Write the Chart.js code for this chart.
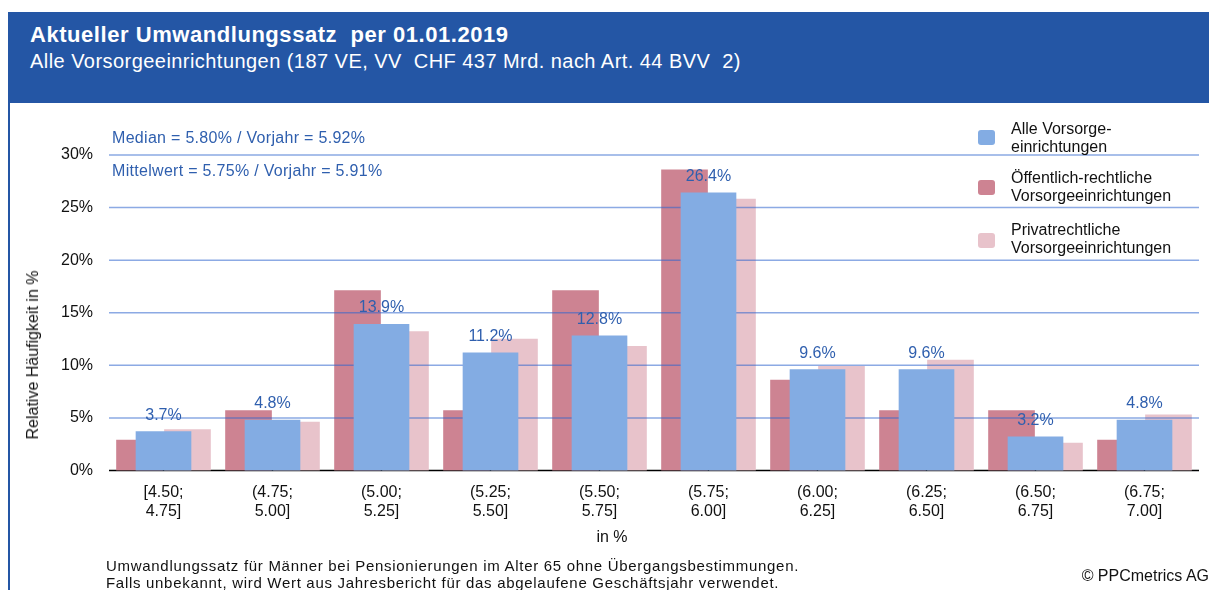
<!DOCTYPE html>
<html>
<head>
<meta charset="utf-8">
<title>Aktueller Umwandlungssatz</title>
<script src="https://cdn.jsdelivr.net/npm/chart.js@4.4.1/dist/chart.umd.min.js"></script>
<style>
  body { margin: 0; width: 1209px; height: 590px; overflow: hidden; background: #fff; position: relative;
         font-family: "Liberation Sans", Arial, sans-serif; color: #111; }
  #chartWrap { position: absolute; left: 0; top: 0; width: 1209px; height: 590px; }
  #frame { position: absolute; left: 8px; top: 12px; width: 2px; height: 578px; background: #2456a5; }
  #header { position: absolute; left: 8px; top: 12px; right: 0; height: 91px; background: #2456a5; color: #fff; }
  #header .title { position: absolute; left: 22px; top: 10px; font-size: 22px; line-height: 26px; font-weight: bold;
                   letter-spacing: 0.55px; white-space: pre; }
  #header .sub { position: absolute; left: 22px; top: 37px; font-size: 20px; line-height: 24px; letter-spacing: 0.45px; white-space: pre; }
  .note { position: absolute; left: 112px; font-size: 16px; line-height: 18px; letter-spacing: 0.3px; color: #2f5fae; white-space: pre; }
  #legend { position: absolute; left: 978px; top: 0; }
  .item { position: absolute; left: 0; width: 220px; }
  .item .box { position: absolute; left: 0; width: 17px; height: 15px; border-radius: 3px; }
  .item .txt { position: absolute; left: 33px; font-size: 16px; line-height: 18px; white-space: pre; }
  #yTitle { position: absolute; left: 33px; top: 355px; font-size: 16px; white-space: pre;
            transform: translate(-50%, -50%) rotate(-90deg); }
  #xTitle { position: absolute; left: 612px; top: 537px; font-size: 16px; transform: translate(-50%, -50%); }
  #footer { position: absolute; left: 106px; top: 557px; font-size: 15px; line-height: 17px; letter-spacing: 0.7px; white-space: pre; }
  #copy { position: absolute; right: 0; top: 567px; font-size: 16px; line-height: 18px; white-space: pre; }
</style>
</head>
<body>
<div id="chartWrap"><canvas id="barChart"></canvas></div>
<div id="frame"></div>
<div id="header">
  <div class="title">Aktueller Umwandlungssatz  per 01.01.2019</div>
  <div class="sub">Alle Vorsorgeeinrichtungen (187 VE, VV  CHF 437 Mrd. nach Art. 44 BVV  2)</div>
</div>
<div class="note" style="top:129px">Median = 5.80% / Vorjahr = 5.92%</div>
<div class="note" style="top:162px">Mittelwert = 5.75% / Vorjahr = 5.91%</div>
<div id="legend"></div>
<div id="yTitle">Relative Häufigkeit in %</div>
<div id="xTitle">in %</div>
<div id="footer">Umwandlungssatz für Männer bei Pensionierungen im Alter 65 ohne Übergangsbestimmungen.
Falls unbekannt, wird Wert aus Jahresbericht für das abgelaufene Geschäftsjahr verwendet.</div>
<div id="copy">© PPCmetrics AG</div>

<script>
// categories (x axis), two lines each
const categories = [
    ["[4.50;", "4.75]"], ["(4.75;", "5.00]"], ["(5.00;", "5.25]"], ["(5.25;", "5.50]"], ["(5.50;", "5.75]"],
    ["(5.75;", "6.00]"], ["(6.00;", "6.25]"], ["(6.25;", "6.50]"], ["(6.50;", "6.75]"], ["(6.75;", "7.00]"]
];

// relative frequency in %
const alleValues = [3.7, 4.8, 13.9, 11.2, 12.8, 26.4, 9.6, 9.6, 3.2, 4.8];
const oeffValues = [2.9, 5.7, 17.1, 5.7, 17.1, 28.6, 8.6, 5.7, 5.7, 2.9];
const privValues = [3.9, 4.6, 13.2, 12.5, 11.8, 25.8, 9.9, 10.5, 2.6, 5.3];

const yTicks = [0, 5, 10, 15, 20, 25, 30];

const seriesNames = [
    ["Alle Vorsorge-", "einrichtungen"],
    ["Öffentlich-rechtliche", "Vorsorgeeinrichtungen"],
    ["Privatrechtliche", "Vorsorgeeinrichtungen"]
];
const seriesColors = ["#83ace3", "#cd8392", "#e8c3cb"];

Chart.defaults.font.family = '"Liberation Sans", Arial, sans-serif';
Chart.defaults.color = "#111";

// gridlines sit on top of the red/pink bars but under the blue ones
const gridAndLabels = {
    id: "gridAndLabels",
    beforeDatasetsDraw(chart) {
        const { ctx, chartArea, scales: { y } } = chart;
        const py = y.getPixelForValue(0);
        ctx.save();
        ctx.strokeStyle = "#000";
        ctx.lineWidth = 1.5;
        ctx.beginPath();
        ctx.moveTo(chartArea.left, py);
        ctx.lineTo(chartArea.right, py);
        ctx.stroke();
        ctx.restore();
    },
    beforeDatasetDraw(chart, args) {
        if (args.index !== 0) return;
        const { ctx, chartArea, scales: { y } } = chart;
        ctx.save();
        ctx.strokeStyle = "rgba(45, 100, 205, 0.55)";
        ctx.lineWidth = 1.5;
        yTicks.forEach(t => {
            if (t === 0) return;
            const py = y.getPixelForValue(t);
            ctx.beginPath();
            ctx.moveTo(chartArea.left, py);
            ctx.lineTo(chartArea.right, py);
            ctx.stroke();
        });
        ctx.restore();
    },
    afterDatasetsDraw(chart) {
        const ctx = chart.ctx;
        const meta = chart.getDatasetMeta(0);
        ctx.save();
        ctx.font = '16px "Liberation Sans", Arial, sans-serif';
        ctx.fillStyle = "#2f5fae";
        ctx.textAlign = "center";
        ctx.textBaseline = "alphabetic";
        meta.data.forEach((bar, i) => {
            ctx.fillText(alleValues[i].toFixed(1) + "%", bar.x, bar.y - 12);
        });
        ctx.restore();
    }
};

const chart = new Chart(document.getElementById("barChart"), {
    type: "bar",
    data: {
        datasets: [
            {
                label: seriesNames[0].join(""),
                data: alleValues.map((v, i) => ({ x: i, y: v })),
                backgroundColor: seriesColors[0],
                barThickness: 55,
                grouped: false,
                order: 0
            },
            {
                label: seriesNames[1].join(" "),
                data: oeffValues.map((v, i) => ({ x: i - 0.22, y: v })),
                backgroundColor: seriesColors[1],
                barThickness: 46,
                grouped: false,
                order: 1
            },
            {
                label: seriesNames[2].join(" "),
                data: privValues.map((v, i) => ({ x: i + 0.22, y: v })),
                backgroundColor: seriesColors[2],
                barThickness: 46,
                grouped: false,
                order: 2
            }
        ]
    },
    options: {
        responsive: true,
        maintainAspectRatio: false,
        animation: false,
        layout: {
            autoPadding: false,
            padding: { top: 155, left: 0, right: 10, bottom: 59.5 }
        },
        plugins: {
            legend: { display: false },
            tooltip: { enabled: false }
        },
        scales: {
            x: {
                type: "linear",
                min: -0.5,
                max: 9.5,
                offset: false,
                afterBuildTicks: scale => {
                    scale.ticks = categories.map((c, i) => ({ value: i }));
                },
                afterFit: scale => { scale.height = 60; },
                grid: { display: false, drawTicks: false },
                border: { display: false },
                ticks: {
                    autoSkip: false,
                    maxRotation: 0,
                    padding: 12,
                    font: { size: 16, lineHeight: 1.2 },
                    callback: value => categories[value]
                }
            },
            y: {
                min: 0,
                max: 30,
                afterBuildTicks: scale => {
                    scale.ticks = yTicks.map(v => ({ value: v }));
                },
                afterFit: scale => { scale.width = 109; },
                grid: { display: false, drawTicks: false },
                border: { display: false },
                ticks: {
                    padding: 16,
                    font: { size: 16 },
                    callback: value => value + "%"
                }
            }
        }
    },
    plugins: [gridAndLabels]
});

// legend built from the series names and colours
const legendTops = [120, 169, 221];
const boxTops = [130, 180, 233];
const legend = document.getElementById("legend");
seriesNames.forEach((lines, i) => {
    const item = document.createElement("div");
    item.className = "item";
    item.innerHTML = '<div class="box" style="top:' + boxTops[i] + 'px;background:' + seriesColors[i] + '"></div>' +
        '<div class="txt" style="top:' + legendTops[i] + 'px">' + lines.join("\n") + '</div>';
    legend.appendChild(item);
});
</script>
</body>
</html>
